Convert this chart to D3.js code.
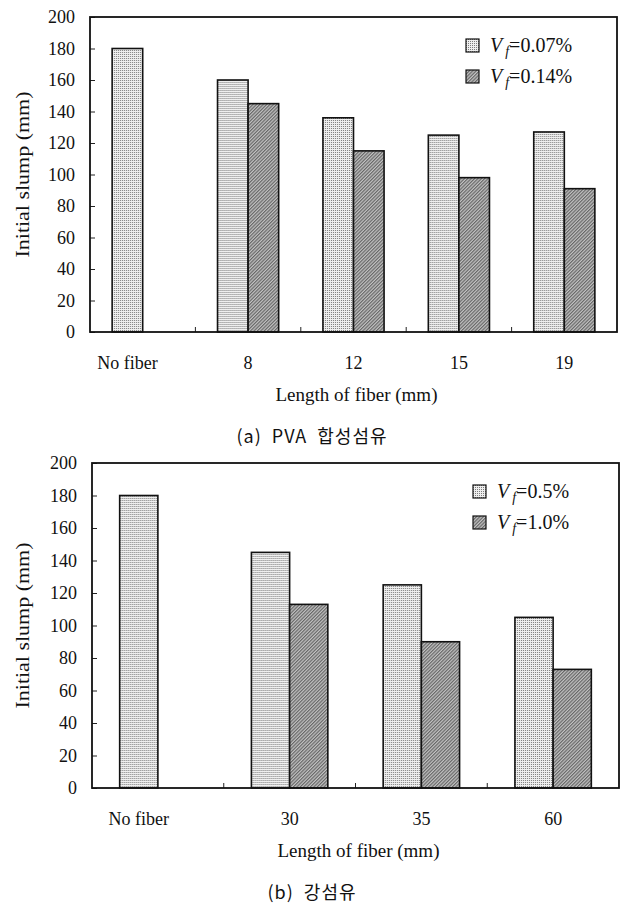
<!DOCTYPE html>
<html>
<head>
<meta charset="utf-8">
<script src="https://cdn.jsdelivr.net/npm/d3@7"></script>
<style>
  body { margin: 0; background: #fff; }
  svg { display: block; }
</style>
</head>
<body>
<div id="chart"></div>
<script>
// values (mm)
const pvaCategories = ["No fiber", "8", "12", "15", "19"];
const pvaLow = [180, 160, 136, 125, 127];   // Vf = 0.07%
const pvaHigh = [null, 145, 115, 98, 91];   // Vf = 0.14%
const pvaLegend = ["0.07%", "0.14%"];

const steelCategories = ["No fiber", "30", "35", "60"];
const steelLow = [180, 145, 125, 105];      // Vf = 0.5%
const steelHigh = [null, 113, 90, 73];      // Vf = 1.0%
const steelLegend = ["0.5%", "1.0%"];

const yTicks = [0, 20, 40, 60, 80, 100, 120, 140, 160, 180, 200];
const seriesKeys = ["low", "high"];

const width = 622, height = 906;
const serif = "'Liberation Serif', 'DejaVu Serif', serif";

const svg = d3.select("#chart").append("svg")
  .attr("width", width)
  .attr("height", height);

const defs = svg.append("defs");

const dots = defs.append("pattern")
  .attr("id", "dots")
  .attr("patternUnits", "userSpaceOnUse")
  .attr("width", 2).attr("height", 2);
dots.append("rect").attr("width", 2).attr("height", 2).attr("fill", "#efefef");
dots.append("rect").attr("width", 1).attr("height", 1).attr("fill", "#7c7c7c");

const hatch = defs.append("pattern")
  .attr("id", "hatch")
  .attr("patternUnits", "userSpaceOnUse")
  .attr("width", 2.4).attr("height", 2.4)
  .attr("patternTransform", "rotate(45)");
hatch.append("rect").attr("width", 2.4).attr("height", 2.4).attr("fill", "#c2c2c2");
hatch.append("line")
  .attr("x1", 0.6).attr("y1", 0).attr("x2", 0.6).attr("y2", 2.4)
  .attr("stroke", "#606060").attr("stroke-width", 1.1);

const fills = { low: "url(#dots)", high: "url(#hatch)" };

function drawPanel(cfg) {
  const { categories, low, high, legend, left, right, top, bottom } = cfg;

  const g = svg.append("g");

  const x = d3.scaleBand()
    .domain(categories)
    .range([left, right]);

  const y = d3.scaleLinear()
    .domain([0, 200])
    .range([bottom, top]);

  const barW = x.bandwidth() * 0.29;
  const xs = d3.scaleBand()
    .domain(seriesKeys)
    .range([0, barW * 2]);

  const rows = categories.map((c, i) => ({ cat: c, low: low[i], high: high[i] }));

  // bars
  const groups = g.selectAll(".cat")
    .data(rows)
    .join("g")
    .attr("transform", d => `translate(${x(d.cat) + x.bandwidth() / 2 - barW},0)`);

  groups.selectAll("rect")
    .data(d => seriesKeys.filter(k => d[k] != null).map(k => ({ key: k, value: d[k] })))
    .join("rect")
    .attr("x", d => xs(d.key))
    .attr("y", d => y(d.value))
    .attr("width", xs.bandwidth())
    .attr("height", d => y(0) - y(d.value))
    .attr("fill", d => fills[d.key])
    .attr("stroke", "#111")
    .attr("stroke-width", 1.6);

  // y axis, ticks inward
  const yAxis = g.append("g")
    .attr("transform", `translate(${left},0)`)
    .call(d3.axisLeft(y).tickValues(yTicks).tickSizeInner(-5).tickSizeOuter(0).tickPadding(15));
  yAxis.select(".domain").remove();
  yAxis.selectAll(".tick line").attr("stroke", "#222");
  yAxis.selectAll("text")
    .attr("font-family", serif)
    .attr("font-size", 18)
    .attr("fill", "#111");

  // x axis: boundary ticks going up
  const bounds = categories.slice(1).map(c => x(c));
  g.selectAll(".xtick")
    .data(bounds)
    .join("line")
    .attr("x1", d => d).attr("x2", d => d)
    .attr("y1", bottom).attr("y2", bottom - 5)
    .attr("stroke", "#222");

  g.selectAll(".xlabel")
    .data(categories)
    .join("text")
    .attr("x", (d, i) => i === 0
      ? x(d) + x.bandwidth() / 2 - barW / 2
      : x(d) + x.bandwidth() / 2)
    .attr("y", bottom + 37)
    .attr("text-anchor", "middle")
    .attr("font-family", serif)
    .attr("font-size", 18)
    .attr("fill", "#111")
    .text(d => d);

  // frame
  g.append("rect")
    .attr("x", left).attr("y", top)
    .attr("width", right - left).attr("height", bottom - top)
    .attr("fill", "none")
    .attr("stroke", "#111")
    .attr("stroke-width", 1.8);

  // axis titles
  g.append("text")
    .attr("transform", `translate(29,${(top + bottom) / 2}) rotate(-90)`)
    .attr("text-anchor", "middle")
    .attr("font-family", serif)
    .attr("font-size", 19)
    .attr("textLength", 166)
    .attr("lengthAdjust", "spacingAndGlyphs")
    .attr("fill", "#111")
    .text("Initial slump (mm)");

  g.append("text")
    .attr("x", (left + right) / 2 + 3)
    .attr("y", bottom + 69)
    .attr("text-anchor", "middle")
    .attr("font-family", serif)
    .attr("font-size", 19)
    .attr("fill", "#111")
    .text("Length of fiber (mm)");

  g.append("text")
    .attr("x", 312)
    .attr("y", bottom + 111)
    .attr("text-anchor", "middle")
    .attr("font-family", "'Noto Sans CJK KR', 'Noto Sans', sans-serif")
    .attr("font-size", 18)
    .attr("letter-spacing", 1)
    .style("white-space", "pre")
    .attr("fill", "#111")
    .text(cfg.caption);

  // legend
  const lg = g.append("g")
    .attr("transform", `translate(${cfg.legendX},${top + 22})`);
  const item = lg.selectAll("g")
    .data(seriesKeys.map((k, i) => ({ key: k, label: legend[i] })))
    .join("g")
    .attr("transform", (d, i) => `translate(0,${i * 31})`);
  item.append("rect")
    .attr("width", 13).attr("height", 13)
    .attr("fill", d => fills[d.key])
    .attr("stroke", "#111")
    .attr("stroke-width", 1.2);
  const t = item.append("text")
    .attr("x", 24)
    .attr("y", 13)
    .attr("font-family", serif)
    .attr("font-size", 20)
    .attr("fill", "#111");
  t.append("tspan").attr("font-style", "italic").text("V");
  t.append("tspan").attr("font-style", "italic").attr("font-size", 14)
    .attr("dx", 3).attr("dy", 4).text("f");
  t.append("tspan").attr("dy", -4).text(d => "=" + d.label);
}

drawPanel({
  categories: pvaCategories, low: pvaLow, high: pvaHigh, legend: pvaLegend,
  left: 90, right: 617, top: 17, bottom: 332,
  legendX: 466, caption: "(a)  PVA  합성섬유"
});

drawPanel({
  categories: steelCategories, low: steelLow, high: steelHigh, legend: steelLegend,
  left: 92, right: 619, top: 463, bottom: 788,
  legendX: 473, caption: "(b)  강섬유"
});
</script>
</body>
</html>
